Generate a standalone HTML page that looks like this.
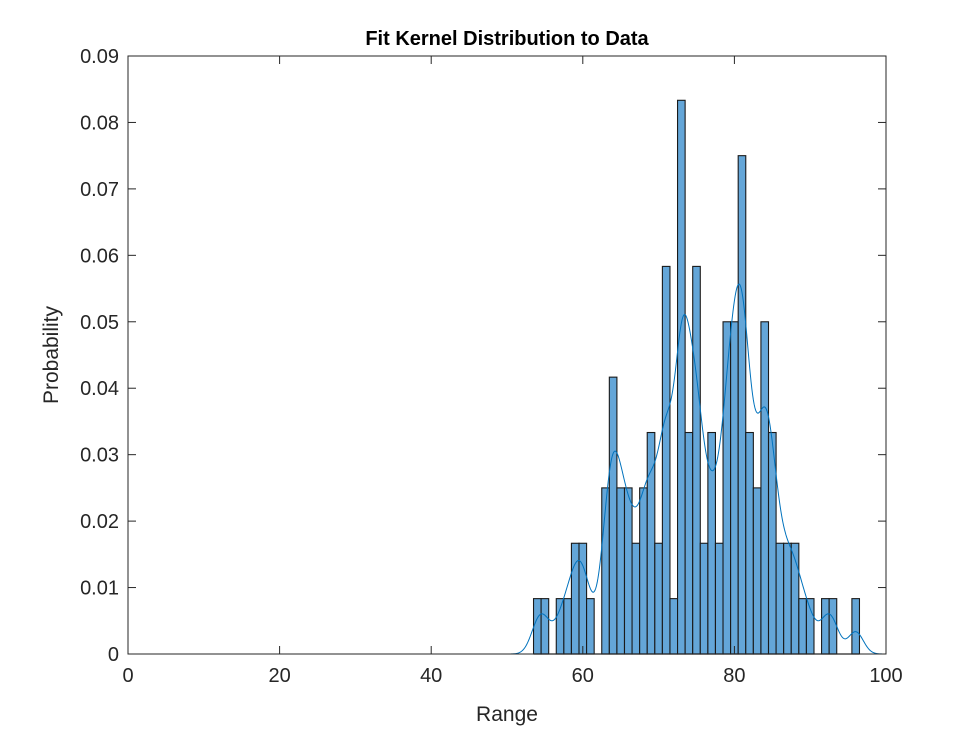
<!DOCTYPE html>
<html><head><meta charset="utf-8"><style>
body{margin:0;background:#fff;}
svg{display:block;font-family:"Liberation Sans",Arial,sans-serif;}
</style></head><body>
<svg id="chart" width="980" height="735" viewBox="0 0 980 735" xmlns="http://www.w3.org/2000/svg">
<rect width="980" height="735" fill="#fff"/>
<g id="plot"></g>
</svg>
<script>
const binCenters = [54,55,56,57,58,59,60,61,62,63,64,65,66,67,68,69,70,71,72,73,74,75,76,77,78,79,80,81,82,83,84,85,86,87,88,89,90,91,92,93,94,95,96];
const binCounts  = [1,1,0,1,1,2,2,1,0,3,5,3,3,2,3,4,2,7,1,10,4,7,2,4,2,6,6,9,4,3,6,4,2,2,2,1,1,0,1,1,0,0,1];
const totalCount = 120;
const xTicks = [0,20,40,60,80,100];
const yTicks = [0,0.01,0.02,0.03,0.04,0.05,0.06,0.07,0.08,0.09];
const yTickLabels = ["0","0.01","0.02","0.03","0.04","0.05","0.06","0.07","0.08","0.09"];
const bandwidth = 1.0;

const L=128,R=886,T=56,B=654;
const xs=v=>L+(v-0)/(100-0)*(R-L);
const ys=v=>B-(v-0)/(0.09-0)*(B-T);
const NS="http://www.w3.org/2000/svg";
const g=document.getElementById('plot');
function mk(tag,attrs,parent){const e=document.createElementNS(NS,tag);for(const k in attrs)e.setAttribute(k,attrs[k]);(parent||g).appendChild(e);return e;}

const bars=mk('g',{});


binCenters.forEach((c,i)=>{
  if(binCounts[i]===0)return;
  const p=binCounts[i]/totalCount;
  const r=mk('rect',{x:xs(c-0.5),y:ys(p),width:xs(c+0.5)-xs(c-0.5),height:ys(0)-ys(p),fill:'#64a6d8',stroke:'#1a1a1a','stroke-width':1.1},bars);
  
  
});
const bl=mk('line',{x1:xs(53.5),y1:B,x2:xs(96.5),y2:B,stroke:'#1a1a1a','stroke-width':1.2});



let d='';
for(let i=0;i<=1000;i++){
  const x=i/10;let s=0;
  binCenters.forEach((c,j)=>{if(binCounts[j])s+=binCounts[j]*Math.exp(-0.5*((x-c)/bandwidth)**2);});
  s/=totalCount*bandwidth*Math.sqrt(2*Math.PI);
  d+=(i?'L':'M')+xs(x).toFixed(2)+','+ys(s).toFixed(2);
}
const kde=mk('path',{d:d,fill:'none',stroke:'#0072bd','stroke-width':1});



const box=mk('rect',{x:L,y:T,width:R-L,height:B-T,fill:'none',stroke:'#262626','stroke-width':1});



xTicks.forEach(v=>{
  const x=xs(v);
  mk('line',{x1:x,y1:B,x2:x,y2:B-8,stroke:'#262626'});
  mk('line',{x1:x,y1:T,x2:x,y2:T+8,stroke:'#262626'});
  const t=mk('text',{x:x,y:B+28,'text-anchor':'middle','font-size':20,fill:'#262626'});
  t.textContent=v;
  
  
});
yTicks.forEach((v,i)=>{
  const y=ys(v);
  mk('line',{x1:L,y1:y,x2:L+8,y2:y,stroke:'#262626'});
  mk('line',{x1:R,y1:y,x2:R-8,y2:y,stroke:'#262626'});
  const t=mk('text',{x:L-9,y:y+7,'text-anchor':'end','font-size':20,fill:'#262626'});
  t.textContent=yTickLabels[i];
  
  
});
const title=mk('text',{x:(L+R)/2,y:45,'text-anchor':'middle','font-size':20,'font-weight':'bold',fill:'#000'});
title.textContent='Fit Kernel Distribution to Data';


const xl=mk('text',{x:(L+R)/2,y:721,'text-anchor':'middle','font-size':21,fill:'#262626'});
xl.textContent='Range';


const yl=mk('text',{x:0,y:0,'text-anchor':'middle','font-size':21,fill:'#262626',transform:'translate(58,355) rotate(-90)'});
yl.textContent='Probability';


</script>
</body></html>
